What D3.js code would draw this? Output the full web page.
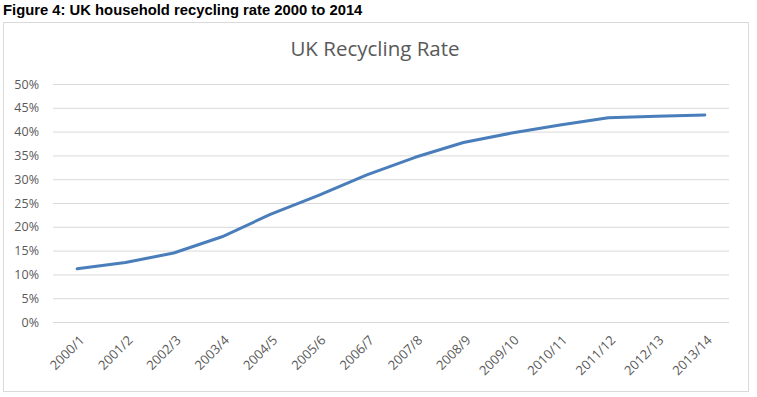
<!DOCTYPE html>
<html>
<head>
<meta charset="utf-8">
<script src="https://cdn.jsdelivr.net/npm/d3@7"></script>
<style>
  body { margin: 0; background: #fff; }
</style>
</head>
<body>
<div id="chart"></div>
<script>
// recycling rate per financial year (%)
var years = ["2000/1", "2001/2", "2002/3", "2003/4", "2004/5", "2005/6", "2006/7",
             "2007/8", "2008/9", "2009/10", "2010/11", "2011/12", "2012/13", "2013/14"];
var rates = [11.2, 12.5, 14.5, 17.9, 22.6, 26.6, 30.9, 34.6, 37.7, 39.7, 41.4, 42.9, 43.2, 43.5];
var yTicks = [0, 5, 10, 15, 20, 25, 30, 35, 40, 45, 50];

var width = 757, height = 397;
var margin = { left: 53, right: 28, top: 84, bottom: 75 };

var svg = d3.select("#chart").append("svg")
            .attr("width", width)
            .attr("height", height)
            .style("display", "block");

// figure caption above the chart box
svg.append("text")
   .attr("x", 3)
   .attr("y", 15)
   .style("font-family", "'Liberation Sans', Arial, sans-serif")
   .style("font-weight", "bold")
   .style("font-size", "14.8px")
   .style("fill", "#000")
   .text("Figure 4: UK household recycling rate 2000 to 2014");

// chart area border
svg.append("rect")
   .attr("x", 3.5)
   .attr("y", 22.5)
   .attr("width", 745)
   .attr("height", 369)
   .style("fill", "#fff")
   .style("stroke", "#d9d9d9")
   .style("stroke-width", 1);

svg.append("text")
   .attr("x", 375)
   .attr("y", 56)
   .attr("text-anchor", "middle")
   .style("font-family", "'Open Sans', sans-serif")
   .style("font-size", "20.5px")
   .style("fill", "#595959")
   .text("UK Recycling Rate");

var x = d3.scaleBand()
          .domain(years)
          .range([margin.left, width - margin.right]);

var y = d3.scaleLinear()
          .domain([0, 50])
          .range([height - margin.bottom, margin.top]);

// gridlines + y labels
var yAxis = svg.append("g")
               .attr("transform", "translate(" + margin.left + ",0)")
               .call(d3.axisLeft(y).tickValues(yTicks)
                       .tickSize(-(width - margin.left - margin.right))
                       .tickPadding(14)
                       .tickFormat(function (d) { return d + "%"; }));
yAxis.select(".domain").remove();
yAxis.selectAll(".tick line")
     .style("stroke", "#d9d9d9")
     .style("stroke-width", 1);
yAxis.selectAll(".tick text")
     .style("font-family", "'Open Sans', sans-serif")
     .style("font-size", "12.5px")
     .style("fill", "#595959");

// x labels, rotated
var xAxis = svg.append("g")
               .attr("transform", "translate(0," + (height - margin.bottom) + ")")
               .call(d3.axisBottom(x).tickSize(0).tickPadding(0));
xAxis.select(".domain").remove();
xAxis.selectAll(".tick text")
     .attr("text-anchor", "end")
     .attr("dy", "0")
     .attr("transform", "translate(8,19) rotate(-45)")
     .style("font-family", "'Open Sans', sans-serif")
     .style("font-size", "13px")
     .style("fill", "#595959");

var line = d3.line()
             .x(function (d, i) { return x(years[i]) + x.bandwidth() / 2; })
             .y(function (d) { return y(d); });

svg.append("path")
   .datum(rates)
   .attr("d", line)
   .style("fill", "none")
   .style("stroke", "#4a7ebb")
   .style("stroke-width", 3)
   .style("stroke-linejoin", "round")
   .style("stroke-linecap", "round");
</script>
</body>
</html>
